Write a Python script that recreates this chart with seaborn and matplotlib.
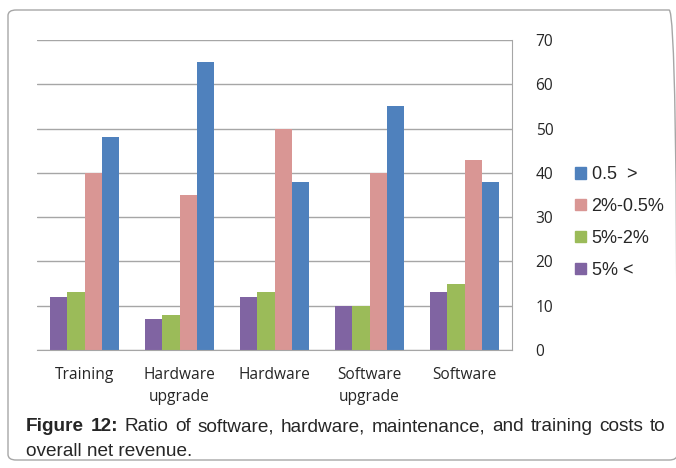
import pandas as pd
import matplotlib
matplotlib.use('Agg')
import matplotlib.pyplot as plt
import seaborn as sns
from matplotlib.patches import FancyBboxPatch, Patch

# data
categories = ['Training', 'Hardware\nupgrade', 'Hardware', 'Software\nupgrade', 'Software']
series = ['5% <', '5%-2%', '2%-0.5%', '0.5  >']
v_lt5 = [12, 7, 12, 10, 13]
v_5_2 = [13, 8, 13, 10, 15]
v_2_05 = [40, 35, 50, 40, 43]
v_05 = [48, 65, 38, 55, 38]
yticks = [0, 10, 20, 30, 40, 50, 60, 70]

colors = ['#8064A2', '#9BBB59', '#D99694', '#4F81BD']

rows = []
for s, vals in zip(series, [v_lt5, v_5_2, v_2_05, v_05]):
    for c, v in zip(categories, vals):
        rows.append({'cat': c, 'series': s, 'value': v})
df = pd.DataFrame(rows)

sns.set_style('white')
plt.rcParams['font.family'] = ['Liberation Sans', 'DejaVu Sans']

fig = plt.figure(figsize=(6.76, 4.68), dpi=100)
# outer rounded frame
frame = FancyBboxPatch((8 / 676, 1 - 460 / 468), 0.99, 450 / 468,
                       boxstyle='round,pad=0,rounding_size=0.012',
                       transform=fig.transFigure, fill=False,
                       edgecolor='#A6A6A6', linewidth=1.0)
fig.patches.append(frame)

ax = fig.add_axes([37 / 676, 1 - 350 / 468, (512 - 37) / 676, 310 / 468])
sns.barplot(data=df, x='cat', y='value', hue='series', hue_order=series,
            palette=colors, width=0.72, gap=0, saturation=1, ax=ax,
            edgecolor='none', legend=False)
ax.set_ylim(0, 70)
ax.set_xlim(-0.5, 4.5)
ax.set_yticks(yticks)
ax.yaxis.tick_right()
ax.grid(axis='y', color='#A6A6A6', linewidth=1.0)
ax.set_axisbelow(True)
for side in ['top', 'left']:
    ax.spines[side].set_visible(False)
ax.spines['bottom'].set_color('#A6A6A6')
ax.spines['right'].set_color('#A6A6A6')
ax.tick_params(axis='both', length=0, colors='#262626')
ax.tick_params(axis='y', pad=17)
ax.tick_params(axis='x', pad=12)
for lab in ax.get_xticklabels() + ax.get_yticklabels():
    lab.set_family(['Open Sans', 'DejaVu Sans'])
    lab.set_fontsize(11.2)
for lab in ax.get_xticklabels():
    lab.set_linespacing(1.55)
ax.set_xlabel('')
ax.set_ylabel('')

handles = [Patch(color=c, label=s) for s, c in zip(series, colors)][::-1]
fig.legend(handles=handles, loc='upper left', bbox_to_anchor=(559 / 676, 1 - 150 / 468),
           frameon=False, fontsize=13, handlelength=0.6, handleheight=0.6,
           handletextpad=0.3, labelspacing=0.82)

# caption, justified across the frame width
x0, x1 = 26, 665
line1 = 'Ratio of software, hardware, maintenance, and training costs to'.split(' ')
y1 = 1 - 431 / 468
words = [('Figure', 'bold'), ('12:', 'bold')] + [(w, 'normal') for w in line1]
fig.canvas.draw()
r = fig.canvas.get_renderer()
probe = [fig.text(0, y1, w, fontsize=10, fontweight=wt) for w, wt in words]
w10 = sum(t.get_window_extent(r).width for t in probe)
for t in probe:
    t.remove()
fs = 10 * (x1 - x0 - 6 * (len(words) - 1)) / w10
texts = [fig.text(0, y1, w, fontsize=fs, fontweight=wt) for w, wt in words]
widths = [t.get_window_extent(r).width for t in texts]
gap = (x1 - x0 - sum(widths)) / (len(texts) - 1)
x = x0
for t, w in zip(texts, widths):
    t.set_x(x / 676)
    x += w + gap
fig.text(x0 / 676, 1 - 456 / 468, 'overall net revenue.', fontsize=fs)

plt.savefig('out.png', dpi=100)
